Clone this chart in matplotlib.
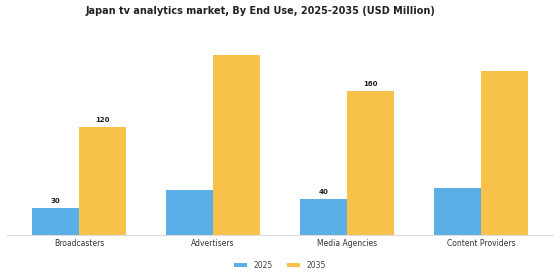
import matplotlib
matplotlib.use("Agg")
import matplotlib.pyplot as plt
import numpy as np

categories = ["Broadcasters", "Advertisers", "Media Agencies", "Content Providers"]
values_2025 = [30, 50, 40, 52]
values_2035 = [120, 200, 160, 182]
labels_2025 = ["30", "", "40", ""]
labels_2035 = ["120", "", "160", ""]
series_names = ["2025", "2035"]

c2025 = "#5aafe6"
c2035 = "#f8c24a"

fig = plt.figure(figsize=(5.6, 2.8), dpi=100)
ax = fig.add_axes([0.013, 0.1607, 0.974, 0.696])

x = np.arange(len(categories))
w = 0.35
b1 = ax.bar(x - w / 2, values_2025, w, color=c2025, label=series_names[0])
b2 = ax.bar(x + w / 2, values_2035, w, color=c2035, label=series_names[1])

for bars, labs in ((b1, labels_2025), (b2, labels_2035)):
    for rect, lab in zip(bars, labs):
        if lab:
            ax.annotate(lab, (rect.get_x() + rect.get_width() / 2, rect.get_height()),
                        xytext=(0, 3), textcoords="offset points", ha="center", va="bottom",
                        fontsize=5, fontweight="bold", color="#222222")

ax.set_xlim(-0.535, 3.535)
ax.set_ylim(0, 216.7)
ax.set_xticks(x)
ax.set_xticklabels(categories, fontsize=5.5, color="#333333")
ax.tick_params(axis="x", length=0, pad=3)
ax.set_yticks([])
for s in ["top", "right", "left"]:
    ax.spines[s].set_visible(False)
ax.spines["bottom"].set_color("#dddddd")
ax.spines["bottom"].set_linewidth(0.8)

fig.text(0.466, 0.96, "Japan tv analytics market, By End Use, 2025-2035 (USD Million)",
         fontsize=7, fontweight="bold", color="#222222", ha="center", va="center")

fig.legend(handles=[b1, b2], labels=series_names, loc="center", bbox_to_anchor=(0.5, 0.052),
           ncol=2, frameon=False, fontsize=5.5, handlelength=1.7, handleheight=0.45,
           handletextpad=0.9, columnspacing=1.8, labelcolor="#444444")

fig.savefig("out.png", dpi=100)
